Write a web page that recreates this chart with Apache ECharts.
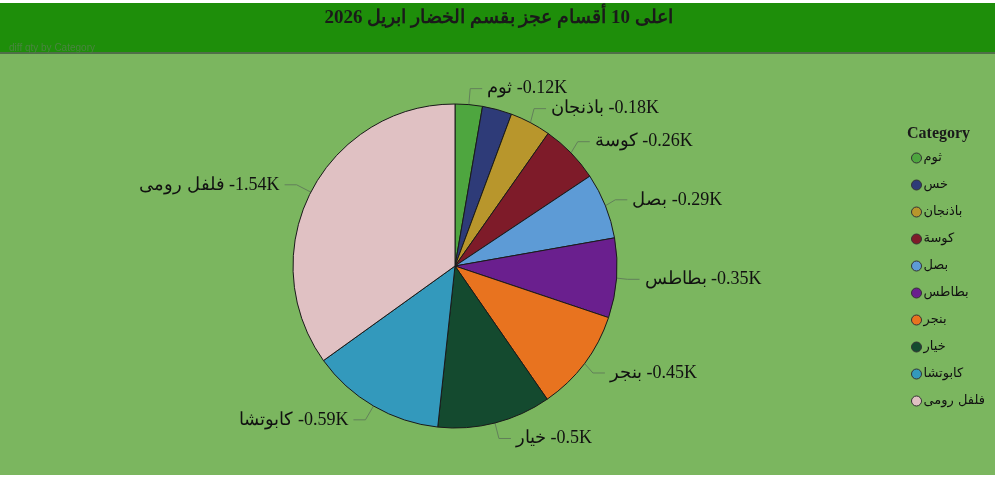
<!DOCTYPE html>
<html>
<head>
<meta charset="utf-8">
<title>اعلى 10 أقسام عجز</title>
<script src="https://cdn.jsdelivr.net/npm/echarts@6/dist/echarts.min.js"></script>
<style>
    html, body { margin: 0; padding: 0; background: #fff; }
    #chart { width: 997px; height: 480px; }
</style>
</head>
<body>
<div id="chart"></div>
<script>
'use strict';
// data (values in K)
var categories = ['ثوم', 'خس', 'باذنجان', 'كوسة', 'بصل', 'بطاطس', 'بنجر', 'خيار', 'كابوتشا', 'فلفل رومى'];
var values = [0.12, 0.13, 0.18, 0.26, 0.29, 0.35, 0.45, 0.5, 0.59, 1.54];
var colors = ['#4ea63f', '#2e3b78', '#b8962c', '#7e1b29', '#5d9bd6', '#6a1f8e', '#e8731f', '#144a2f', '#3399bc', '#e0c1c3'];
// small slice whose label is not drawn
var hiddenLabels = ['خس'];

var myChart = echarts.init(document.getElementById('chart'));

var pieData = categories.map(function (name, i) {
    var item = { name: name, value: values[i], itemStyle: { color: colors[i] } };
    if (hiddenLabels.indexOf(name) > -1) {
        item.label = { show: false };
        item.labelLine = { show: false };
    }
    return item;
});

var option = {
    animation: false,
    backgroundColor: '#ffffff',
    graphic: [
        { type: 'rect', z: -10, shape: { x: 0, y: 3, width: 995, height: 472 }, style: { fill: '#7bb65f' } },
        { type: 'rect', z: -9, shape: { x: 0, y: 3, width: 995, height: 49 }, style: { fill: '#1e8e0a' } },
        { type: 'rect', z: -9, shape: { x: 0, y: 52, width: 995, height: 2 }, style: { fill: '#4f6f48' } }
    ],
    title: [
        {
            text: 'اعلى 10 أقسام عجز بقسم الخضار ابريل 2026',
            left: 'center',
            top: 4,
            textStyle: { fontFamily: 'Liberation Serif', fontWeight: 'bold', fontSize: 19, color: '#1a1a1a' }
        },
        {
            text: 'diff qty by Category',
            left: 4,
            top: 38,
            textStyle: { fontFamily: 'Liberation Sans', fontWeight: 'normal', fontSize: 10, color: '#4a8440' }
        },
        {
            text: 'Category',
            left: 902,
            top: 121,
            textStyle: { fontFamily: 'Liberation Serif', fontWeight: 'bold', fontSize: 16, color: '#1a1a1a' }
        }
    ],
    legend: {
        orient: 'vertical',
        left: 906,
        top: 146,
        icon: 'circle',
        itemWidth: 10,
        itemHeight: 10,
        itemGap: 13,
        selectedMode: false,
        itemStyle: { borderColor: '#333', borderWidth: 1 },
        textStyle: { fontFamily: 'DejaVu Sans', fontSize: 13, lineHeight: 14, color: '#111', padding: [0, 0, 0, -3] },
        data: categories
    },
    series: [
        {
            name: 'diff qty',
            type: 'pie',
            center: [455, 266],
            radius: 162,
            startAngle: 90,
            clockwise: true,
            itemStyle: { borderColor: '#1a1a1a', borderWidth: 1 },
            label: {
                show: true,
                position: 'outside',
                fontFamily: 'Liberation Serif',
                fontSize: 18,
                color: '#111',
                formatter: function (p) {
                    return p.name + '\u200E -' + p.value + 'K';
                }
            },
            labelLine: {
                show: true,
                length: 16,
                length2: 12,
                lineStyle: { color: '#62805a', width: 1 }
            },
            emphasis: { disabled: true },
            data: pieData
        }
    ]
};
myChart.setOption(option);
</script>
</body>
</html>
